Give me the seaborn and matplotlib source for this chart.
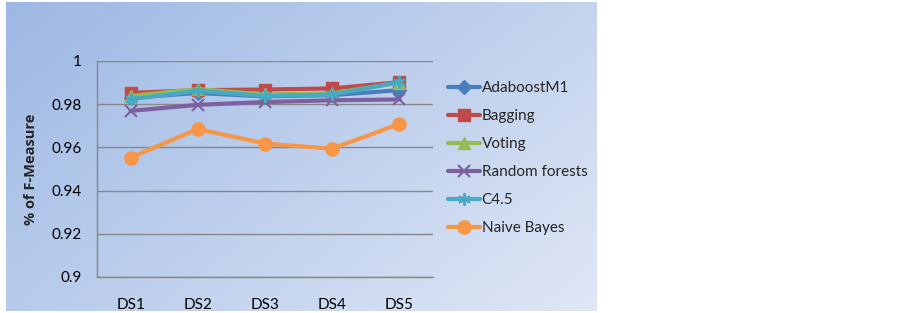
import numpy as np
import pandas as pd
import matplotlib
matplotlib.use("Agg")
import matplotlib.pyplot as plt
import seaborn as sns

datasets = ["DS1", "DS2", "DS3", "DS4", "DS5"]
adaboost = [0.9830, 0.9852, 0.9836, 0.9842, 0.9865]
bagging = [0.9852, 0.9865, 0.9868, 0.9873, 0.9902]
voting = [0.9838, 0.9870, 0.9845, 0.9850, 0.9900]
random_forests = [0.9769, 0.9797, 0.9810, 0.9818, 0.9822]
c45 = [0.9823, 0.9862, 0.9838, 0.9845, 0.9902]
naive_bayes = [0.9553, 0.9685, 0.9618, 0.9594, 0.9709]

series = [
    ("AdaboostM1", adaboost, "#4A7EBB", "D", 7.5),
    ("Bagging", bagging, "#BE4B48", "s", 8.5),
    ("Voting", voting, "#98B954", "^", 8.5),
    ("Random forests", random_forests, "#7D60A0", "x", 8),
    ("C4.5", c45, "#46AAC5", (6, 2, 0), 9),
    ("Naive Bayes", naive_bayes, "#F79646", "o", 9.5),
]

sns.set_style("white")
plt.rcParams["font.family"] = ["Lato", "DejaVu Sans"]

W, H = 902, 313
fig = plt.figure(figsize=(W / 100, H / 100), dpi=100)
fig.patch.set_facecolor("white")

# gradient panel behind the chart
bg = fig.add_axes([6 / W, 2 / H, 591 / W, 309 / H], zorder=-1)
yy, xx = np.mgrid[0:1:200j, 0:1:400j]
t = 0.6 * xx + 0.4 * yy
c0 = np.array([157, 184, 228]) / 255
c1 = np.array([223, 231, 245]) / 255
grad = c0[None, None, :] * (1 - t[..., None]) + c1[None, None, :] * t[..., None]
bg.imshow(grad, aspect="auto", extent=[0, 1, 0, 1], origin="upper")
bg.axis("off")

ax = fig.add_axes([97 / W, 1 - 277 / H, (433 - 97) / W, (277 - 61) / H])
ax.set_facecolor("none")

for name, vals, color, marker, ms in series:
    df = pd.DataFrame({"ds": datasets, "val": vals})
    sns.lineplot(data=df, x="ds", y="val", ax=ax, color=color, linewidth=3,
                 marker=marker, markersize=ms, markeredgecolor=color,
                 markeredgewidth=1.5 if marker in ("x", (6, 2, 0)) else 1,
                 label=name)

ax.set_xlim(-0.5, 4.5)
ax.set_ylim(0.9, 1.0)
ax.set_yticks([0.9, 0.92, 0.94, 0.96, 0.98, 1.0])
ax.set_yticklabels(["0.9", "0.92", "0.94", "0.96", "0.98", "1"])
ax.grid(axis="y", color="#878787", linewidth=1)
ax.grid(axis="x", visible=False)
for s in ["top", "right"]:
    ax.spines[s].set_visible(False)
for s in ["left", "bottom"]:
    ax.spines[s].set_color("#878787")
    ax.spines[s].set_linewidth(1)
ax.tick_params(axis="both", length=0, labelsize=11, colors="black")
ax.tick_params(axis="y", pad=11)
ax.tick_params(axis="x", pad=15)
ax.set_xlabel("")
ax.set_ylabel("% of F-Measure", fontsize=10.5, fontweight="bold", labelpad=10,
              family=["Open Sans", "DejaVu Sans"])

ax.legend(loc="upper left", bbox_to_anchor=(448 / W, 1 - 81 / H),
          bbox_transform=fig.transFigure, frameon=False, fontsize=11,
          handlelength=2.1, handletextpad=0.1, labelspacing=0.92,
          borderaxespad=0, borderpad=0)

fig.savefig("out.png", dpi=100)
